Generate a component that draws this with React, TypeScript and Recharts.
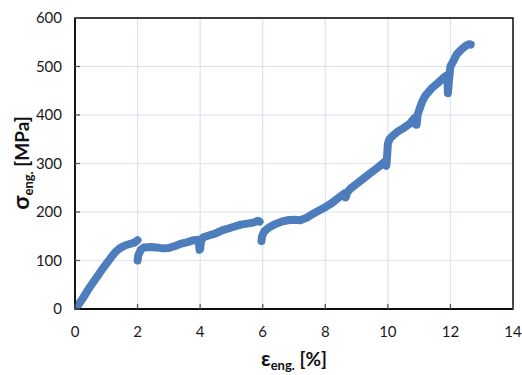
import React from 'react';
import { ComposedChart, Line, XAxis, YAxis, CartesianGrid, ReferenceArea, Label } from 'recharts';

// strain [%] / stress [MPa], split where the curve breaks
const seg1Strain = [0, 0.1, 0.25, 0.4, 0.55, 0.7, 0.85, 1.0, 1.15, 1.3, 1.45, 1.6, 1.75, 1.9, 2.0];
const seg1Stress = [0, 8, 22, 38, 52, 66, 80, 93, 106, 118, 126, 131, 134, 137, 142];

const seg2Strain = [2.0, 2.02, 2.1, 2.2, 2.4, 2.6, 2.8, 3.0, 3.2, 3.4, 3.6, 3.8, 3.95, 3.98, 4.0, 4.03, 4.1, 4.3, 4.5, 4.7, 4.9, 5.1, 5.3, 5.5, 5.7, 5.85, 5.9];
const seg2Stress = [100, 110, 122, 127, 128, 127, 125, 126, 130, 135, 138, 142, 143, 122, 124, 140, 148, 152, 156, 162, 166, 170, 174, 176, 178, 182, 180];

const seg3Strain = [5.96, 5.98, 6.05, 6.2, 6.4, 6.6, 6.8, 7.0, 7.2, 7.4, 7.6, 7.8, 8.0, 8.2, 8.4, 8.6, 8.65, 8.7, 8.8, 9.0, 9.2, 9.4, 9.6, 9.8, 9.9, 9.95, 9.97, 10.0, 10.05, 10.15, 10.3, 10.5, 10.7, 10.85, 10.9, 10.92, 10.95, 11.0, 11.1, 11.2, 11.4, 11.6, 11.8, 11.9, 11.92, 11.95, 12.0, 12.1, 12.2, 12.35, 12.5, 12.6, 12.65];
const seg3Stress = [140, 150, 160, 168, 175, 180, 183, 184, 183, 188, 196, 203, 210, 218, 228, 238, 230, 240, 248, 258, 268, 278, 288, 298, 304, 295, 310, 340, 350, 357, 365, 373, 382, 394, 380, 380, 400, 410, 428, 440, 455, 466, 478, 482, 445, 470, 500, 512, 525, 535, 543, 546, 545];

const xTicks = [0, 2, 4, 6, 8, 10, 12, 14];
const yTicks = [0, 100, 200, 300, 400, 500, 600];

const toRows = (xs: number[], ys: number[]) => xs.map((x, i) => ({ x, y: ys[i] }));
const segments = [toRows(seg1Strain, seg1Stress), toRows(seg2Strain, seg2Stress), toRows(seg3Strain, seg3Stress)];

const FONT = 'Lato, "Open Sans", sans-serif';
const BLUE = '#4d7dbd';

const XTick = (props: any) => {
  const { x, y, payload } = props;
  return (
    <g>
      <line x1={x} y1={y} x2={x} y2={y - 5} stroke="#555" strokeWidth={1.3} />
      <text x={x} y={y + 28} textAnchor="middle" fontSize={15} fill="#1a1a1a" fontFamily={FONT}>
        {payload.value}
      </text>
    </g>
  );
};

const YTick = (props: any) => {
  const { x, y, payload } = props;
  return (
    <g>
      <line x1={x} y1={y} x2={x + 5} y2={y} stroke="#555" strokeWidth={1.3} />
      <text x={x - 13} y={y + 5} textAnchor="end" fontSize={15} fill="#1a1a1a" fontFamily={FONT}>
        {payload.value}
      </text>
    </g>
  );
};

export default function App() {
  return (
    <div style={{ position: 'absolute', left: 0, top: 0 }}>
      <ComposedChart width={522} height={375} margin={{ top: 18, right: 9, bottom: 0, left: 0 }}>
        <CartesianGrid stroke="#dbe2f0" strokeWidth={1.2} />
        <XAxis
          type="number"
          dataKey="x"
          domain={[0, 14]}
          ticks={xTicks}
          height={66}
          tickSize={0}
          tickMargin={0}
          tick={<XTick />}
          axisLine={{ stroke: '#000', strokeWidth: 1.4 }}
          allowDataOverflow
        >
          <Label
            content={() => (
              <text x={294} y={366} textAnchor="middle" fontFamily={FONT} fontWeight="bold" fill="#111">
                <tspan fontSize={21}>ε</tspan>
                <tspan fontSize={13} dy={4}>eng.</tspan>
                <tspan fontSize={19} dy={-4}> [%]</tspan>
              </text>
            )}
          />
        </XAxis>
        <YAxis
          type="number"
          domain={[0, 600]}
          ticks={yTicks}
          width={75}
          tickSize={0}
          tickMargin={0}
          tick={<YTick />}
          axisLine={{ stroke: '#000', strokeWidth: 1.4 }}
          allowDataOverflow
        >
          <Label
            content={() => (
              <text
                x={29}
                y={163}
                textAnchor="middle"
                transform="rotate(-90 29 163)"
                fontFamily={FONT}
                fontWeight="bold"
                fill="#111"
              >
                <tspan fontSize={23}>σ</tspan>
                <tspan fontSize={13} dy={4}>eng.</tspan>
                <tspan fontSize={19} dy={-4}> [MPa]</tspan>
              </text>
            )}
          />
        </YAxis>
        <ReferenceArea x1={0} x2={14} y1={0} y2={600} fill="none" stroke="#000" strokeWidth={1.4} />
        {segments.map((seg, i) => (
          <Line
            key={`seg-${i}`}
            data={seg}
            dataKey="y"
            type="linear"
            stroke={BLUE}
            strokeWidth={8}
            strokeLinejoin="round"
            strokeLinecap="round"
            dot={false}
            activeDot={false}
            isAnimationActive={false}
          />
        ))}
      </ComposedChart>
    </div>
  );
}
